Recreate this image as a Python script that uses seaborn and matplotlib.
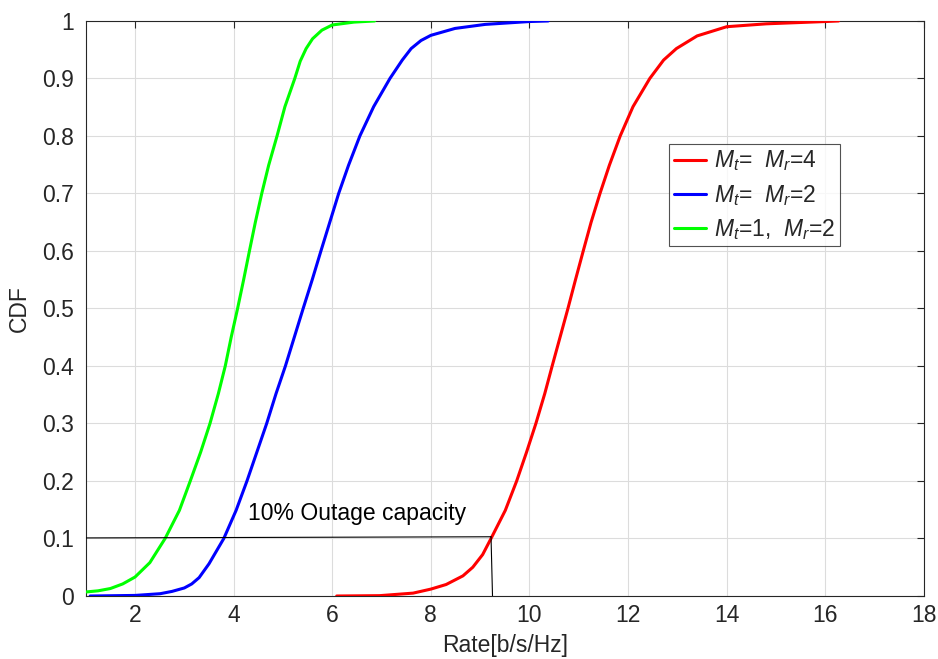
import numpy as np
import pandas as pd
import matplotlib
matplotlib.use("Agg")
import matplotlib.pyplot as plt
import seaborn as sns

# ---- data ----
green_x = [1.0, 1.25, 1.5, 1.75, 2.0, 2.3, 2.61, 2.9, 3.12, 3.33, 3.52, 3.69, 3.83, 3.95, 4.08, 4.20, 4.32, 4.44,
           4.57, 4.71, 4.88, 5.04, 5.24, 5.35, 5.47, 5.6, 5.79, 6.0, 6.44, 6.86]
green_y = [0.007, 0.009, 0.013, 0.021, 0.033, 0.058, 0.1, 0.149, 0.2, 0.25, 0.3, 0.352, 0.4, 0.45, 0.5, 0.549, 0.6, 0.65,
           0.7, 0.749, 0.8, 0.851, 0.9, 0.93, 0.952, 0.969, 0.984, 0.993, 0.998, 1.0]

blue_x = [1.09, 2.0, 2.51, 2.75, 3.0, 3.15, 3.3, 3.5, 3.8, 4.05, 4.27, 4.47, 4.67, 4.86, 5.05, 5.23, 5.41, 5.59,
          5.77, 5.95, 6.13, 6.33, 6.56, 6.84, 7.17, 7.42, 7.6, 7.8, 8.0, 8.49, 9.1, 10.0, 10.38]
blue_y = [0.0, 0.001, 0.004, 0.008, 0.014, 0.021, 0.032, 0.056, 0.1, 0.149, 0.2, 0.25, 0.3, 0.352, 0.4, 0.45, 0.5, 0.549,
          0.6, 0.65, 0.7, 0.749, 0.8, 0.851, 0.9, 0.932, 0.952, 0.966, 0.975, 0.987, 0.994, 0.999, 1.0]

red_x = [6.09, 6.96, 7.64, 8.0, 8.31, 8.65, 8.85, 9.05, 9.22, 9.51, 9.74, 9.94, 10.13, 10.31, 10.46, 10.62, 10.78,
         10.93, 11.09, 11.25, 11.43, 11.62, 11.84, 12.10, 12.44, 12.72, 12.98, 13.4, 14.0, 14.8, 16.0, 16.27]
red_y = [0.0, 0.0006, 0.005, 0.012, 0.02, 0.035, 0.05, 0.072, 0.1, 0.149, 0.2, 0.25, 0.3, 0.352, 0.4, 0.45, 0.5,
         0.549, 0.6, 0.65, 0.7, 0.749, 0.8, 0.851, 0.9, 0.932, 0.952, 0.974, 0.99, 0.995, 0.999, 1.0]

labels = [r'$M_t$=  $M_r$=4', r'$M_t$=  $M_r$=2', r'$M_t$=1,  $M_r$=2']
colors = ['#ff0000', '#0000ff', '#00ff00']

outage_line_x = [1.0, 9.22]
outage_line_y = [0.101, 0.103]
outage_vert_x = [9.22, 9.25]
outage_vert_y = [0.103, 0.0]
outage_text = '10% Outage capacity'

x_ticks = [2, 4, 6, 8, 10, 12, 14, 16, 18]
y_ticks = [0, 0.1, 0.2, 0.3, 0.4, 0.5, 0.6, 0.7, 0.8, 0.9, 1.0]
y_tick_labels = ['0', '0.1', '0.2', '0.3', '0.4', '0.5', '0.6', '0.7', '0.8', '0.9', '1']

# ---- styling ----
sns.set_theme(style='white')
plt.rcParams['font.family'] = ['Liberation Sans', 'DejaVu Sans']
plt.rcParams['mathtext.fontset'] = 'custom'
plt.rcParams['mathtext.rm'] = 'Liberation Sans'
plt.rcParams['mathtext.it'] = 'Liberation Sans:italic'

FS = 16.5

fig = plt.figure(figsize=(9.38, 6.59), dpi=100)
ax = fig.add_axes([0.0914, 0.0956, 0.8936, 0.8726])

frames = []
for xs, ys, lab in [(red_x, red_y, labels[0]), (blue_x, blue_y, labels[1]), (green_x, green_y, labels[2])]:
    frames.append(pd.DataFrame({'Rate': xs, 'CDF': ys, 'series': lab}))
df = pd.concat(frames, ignore_index=True)

sns.lineplot(data=df, x='Rate', y='CDF', hue='series', palette=dict(zip(labels, colors)),
             hue_order=labels, sort=False, linewidth=2.2, ax=ax, zorder=3)
for ln in ax.lines:
    ln.set_solid_joinstyle('round')

ax.plot(outage_line_x, outage_line_y, color='black', lw=0.8, zorder=4)
ax.plot(outage_vert_x, outage_vert_y, color='black', lw=0.8, zorder=4)
ax.text(4.29, 0.132, outage_text, fontsize=FS, color='#000000', ha='left', va='baseline')

ax.set_xlim(1, 18)
ax.set_ylim(0, 1)
ax.set_xticks(x_ticks)
ax.set_yticks(y_ticks)
ax.set_yticklabels(y_tick_labels)
ax.grid(True, color='#dcdcdc', linewidth=0.8)
ax.set_axisbelow(True)
ax.tick_params(direction='in', top=True, right=True, length=5, width=0.8,
               colors='#262626', labelsize=FS)
ax.tick_params(axis='x', pad=6)
ax.tick_params(axis='y', pad=8.5)
for s in ax.spines.values():
    s.set_color('#262626')
    s.set_linewidth(0.8)
ax.set_xlabel('Rate[b/s/Hz]', fontsize=FS, color='#262626', labelpad=5)
ax.set_ylabel('CDF', fontsize=FS, color='#262626', labelpad=8)

leg = ax.legend(loc='upper left', bbox_to_anchor=(0.696, 0.786), borderaxespad=0,
                fontsize=FS, frameon=True, fancybox=False, edgecolor='#262626',
                handlelength=1.4, handletextpad=0.35, labelspacing=0.4, borderpad=0.2)
leg.get_frame().set_linewidth(0.8)
leg.set_title(None)

fig.savefig('out.png', dpi=100)
